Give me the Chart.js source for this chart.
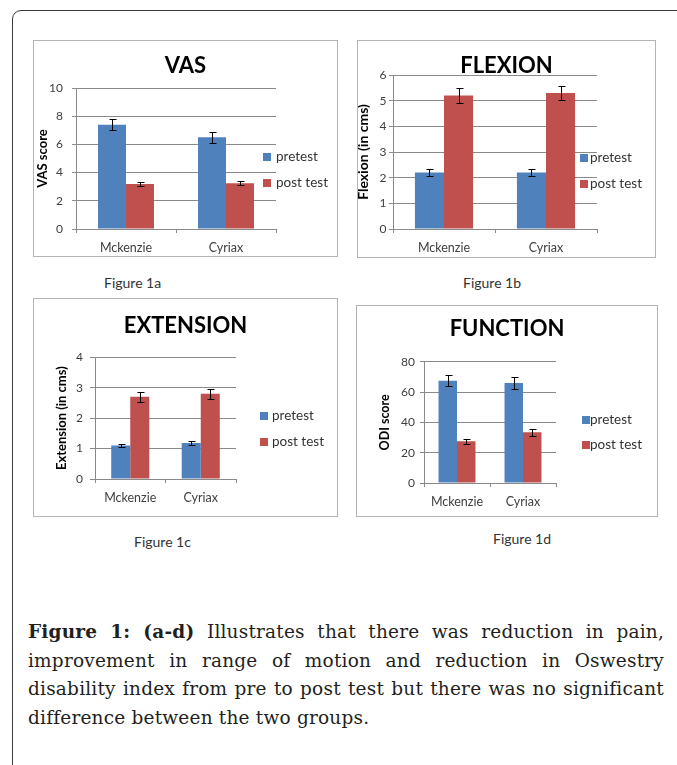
<!DOCTYPE html>
<html>
<head>
<meta charset="utf-8">
<script src="https://cdn.jsdelivr.net/npm/chart.js@4.4.0/dist/chart.umd.min.js"></script>
<style>
  body { margin: 0; width: 677px; height: 765px; background: #fff; position: relative; overflow: hidden; font-family: Lato, "Open Sans", sans-serif; }
  .frame { position: absolute; left: 12px; top: 10px; width: 720px; height: 800px; border: 1.5px solid #3c3c3c; border-radius: 9px; }
  .panel { position: absolute; border: 1px solid #b4b4b4; background: #fff; }
  .panel canvas { position: absolute; left: 0; top: 0; }
  .figlabel { position: absolute; font-size: 14px; color: #333; line-height: 16px; }
  .caption { position: absolute; left: 28px; top: 618px; width: 636px; font-family: "DejaVu Serif", serif; font-size: 18.5px; letter-spacing: 0.2px; line-height: 28.5px; text-align: justify; color: #231f20; }
</style>
</head>
<body>
<div class="frame"></div>

<div class="panel" style="left:33px; top:40px; width:303px; height:215px;"><canvas id="vasChart" width="303" height="215"></canvas></div>
<div class="panel" style="left:357px; top:40px; width:297px; height:216px;"><canvas id="flexChart" width="297" height="216"></canvas></div>
<div class="panel" style="left:33px; top:298px; width:303px; height:217px;"><canvas id="extChart" width="303" height="217"></canvas></div>
<div class="panel" style="left:356px; top:305px; width:300px; height:210px;"><canvas id="odiChart" width="300" height="210"></canvas></div>

<div class="figlabel" style="left:104px; top:275px;">Figure 1a</div>
<div class="figlabel" style="left:463px; top:275px;">Figure 1b</div>
<div class="figlabel" style="left:134px; top:534px;">Figure 1c</div>
<div class="figlabel" style="left:493px; top:531px;">Figure 1d</div>

<div class="caption"><b>Figure 1: (a-d)</b> Illustrates that there was reduction in pain, improvement in range of motion and reduction in Oswestry disability index from pre to post test but there was no significant difference between the two groups.</div>

<script>
// groepen en reeksen
const groups = ['Mckenzie', 'Cyriax'];
const seriesNames = ['pretest', 'post test'];

// VAS
const vasPre = [7.4, 6.5];
const vasPost = [3.2, 3.25];
const vasPreErr = [0.38, 0.37];
const vasPostErr = [0.13, 0.13];
const vasTicks = [0, 2, 4, 6, 8, 10];

// Flexion
const flexPre = [2.2, 2.2];
const flexPost = [5.2, 5.3];
const flexPreErr = [0.13, 0.13];
const flexPostErr = [0.28, 0.27];
const flexTicks = [0, 1, 2, 3, 4, 5, 6];

// Extension
const extPre = [1.1, 1.18];
const extPost = [2.7, 2.8];
const extPreErr = [0.06, 0.06];
const extPostErr = [0.16, 0.16];
const extTicks = [0, 1, 2, 3, 4];

// Function (ODI)
const odiPre = [67.5, 66];
const odiPost = [27.5, 33.5];
const odiPreErr = [3.5, 3.8];
const odiPostErr = [1.8, 2.2];
const odiTicks = [0, 20, 40, 60, 80];

const blue = '#4f81bd';
const red = '#c0504d';
const gridColor = '#8a8a8a';
const tickColor = '#404040';

Chart.defaults.font.family = 'Lato, "Open Sans", sans-serif';

// foutbalkjes tekenen
const errorBars = {
  id: 'errorBars',
  afterDatasetsDraw(chart) {
    const ctx = chart.ctx;
    const y = chart.scales.y;
    ctx.save();
    ctx.strokeStyle = '#000';
    ctx.lineWidth = 1;
    chart.data.datasets.forEach((ds, i) => {
      chart.getDatasetMeta(i).data.forEach((bar, j) => {
        const v = ds.data[j], e = ds.errors[j];
        const x = Math.round(bar.x) + 0.5;
        const top = Math.round(y.getPixelForValue(v + e)) + 0.5;
        const bot = Math.round(y.getPixelForValue(v - e)) + 0.5;
        ctx.beginPath();
        ctx.moveTo(x, top); ctx.lineTo(x, bot);
        ctx.moveTo(x - 3, top); ctx.lineTo(x + 4, top);
        ctx.moveTo(x - 3, bot); ctx.lineTo(x + 4, bot);
        ctx.stroke();
      });
    });
    ctx.restore();
  }
};

// legenda rechts naast de grafiek
const sideLegend = {
  id: 'sideLegend',
  afterDraw(chart, args, opts) {
    const ctx = chart.ctx;
    ctx.save();
    ctx.font = '13.5px Lato, "Open Sans", sans-serif';
    ctx.textBaseline = 'middle';
    chart.data.datasets.forEach((ds, i) => {
      const cy = opts.y + i * opts.gap;
      ctx.fillStyle = ds.backgroundColor;
      ctx.fillRect(opts.x, Math.round(cy - 4), 8, 8);
      ctx.fillStyle = '#333';
      ctx.fillText(ds.label, opts.textX, cy);
    });
    ctx.restore();
  }
};

// titel over de hele breedte centreren (niet alleen links van de legenda)
const centerTitle = {
  id: 'centerTitle',
  afterLayout(chart) {
    const t = chart.titleBlock;
    if (t) { t.left = 0; t.right = chart.width; t.width = chart.width; }
  }
};

function buildChart(id, p) {
  return new Chart(document.getElementById(id), {
    type: 'bar',
    data: {
      labels: groups,
      datasets: [
        { label: seriesNames[0], data: p.pre, errors: p.preErr, backgroundColor: blue, categoryPercentage: p.cat, barPercentage: 1 },
        { label: seriesNames[1], data: p.post, errors: p.postErr, backgroundColor: red, categoryPercentage: p.cat, barPercentage: 1 }
      ]
    },
    options: {
      responsive: false,
      animation: false,
      layout: { padding: { left: 0, right: p.padRight, top: 0, bottom: 0 } },
      plugins: {
        legend: { display: false },
        tooltip: { enabled: false },
        title: {
          display: true, text: p.title, color: '#000',
          font: { size: 22, weight: 'bold', lineHeight: 0.8 },
          padding: { top: p.titleTop, bottom: p.titleBottom }
        },
        sideLegend: p.legend
      },
      scales: {
        x: {
          grid: { display: true, drawOnChartArea: false, tickLength: 4, color: gridColor },
          border: { color: gridColor },
          ticks: { color: tickColor, font: { size: 12.5, lineHeight: 1.2 }, padding: p.xPad },
          afterFit: s => { s.height = p.xHeight; }
        },
        y: {
          min: p.ticks[0],
          max: p.ticks[p.ticks.length - 1],
          afterBuildTicks: s => { s.ticks = p.ticks.map(v => ({ value: v })); },
          grid: { color: gridColor, tickLength: p.tickLen },
          border: { color: gridColor },
          ticks: { color: tickColor, font: { size: 12 }, padding: p.tickPad },
          title: {
            display: true, text: p.yTitle, color: '#000',
            font: { size: p.yTitleSize, weight: 'bold', lineHeight: 1 },
            padding: { top: p.yTitlePad, bottom: 0 }
          },
          afterFit: s => { s.width = p.yWidth; }
        }
      }
    },
    plugins: [errorBars, sideLegend, centerTitle]
  });
}

buildChart('vasChart', {
  title: 'VAS', yTitle: 'VAS score', ticks: vasTicks,
  pre: vasPre, post: vasPost, preErr: vasPreErr, postErr: vasPostErr,
  cat: 0.56, padRight: 61, xHeight: 27, xPad: 7,
  yWidth: 42, tickLen: 4, tickPad: 9, yTitleSize: 13, yTitlePad: 2.5,
  titleTop: 16.2, titleBottom: 13.2,
  legend: { x: 229, y: 116, gap: 26, textX: 242 }
});

buildChart('flexChart', {
  title: 'FLEXION', yTitle: 'Flexion (in cms)', ticks: flexTicks,
  pre: flexPre, post: flexPost, preErr: flexPreErr, postErr: flexPostErr,
  cat: 0.57, padRight: 58, xHeight: 28, xPad: 7,
  yWidth: 35, tickLen: 4, tickPad: 2.5, yTitleSize: 14, yTitlePad: -2,
  titleTop: 16.4, titleBottom: 0,
  legend: { x: 222, y: 117, gap: 26, textX: 232 }
});

buildChart('extChart', {
  title: 'EXTENSION', yTitle: 'Extension (in cms)', ticks: extTicks,
  pre: extPre, post: extPost, preErr: extPreErr, postErr: extPostErr,
  cat: 0.54, padRight: 101, xHeight: 37, xPad: 7.7,
  yWidth: 61, tickLen: 5, tickPad: 7, yTitleSize: 13, yTitlePad: 21.5,
  titleTop: 18.2, titleBottom: 22.5,
  legend: { x: 226, y: 117, gap: 26, textX: 238 }
});

buildChart('odiChart', {
  title: 'FUNCTION', yTitle: 'ODI score', ticks: odiTicks,
  pre: odiPre, post: odiPost, preErr: odiPreErr, postErr: odiPostErr,
  cat: 0.56, padRight: 101, xHeight: 33, xPad: 7,
  yWidth: 67, tickLen: 4, tickPad: 5, yTitleSize: 12.5, yTitlePad: 21.75,
  titleTop: 14.2, titleBottom: 23.9,
  legend: { x: 225, y: 114, gap: 25, textX: 233 }
});
</script>
</body>
</html>
